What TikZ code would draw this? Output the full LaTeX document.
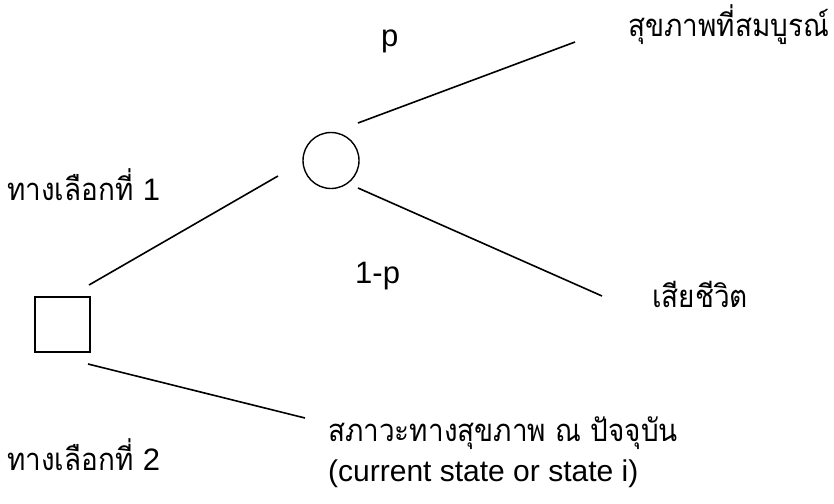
\documentclass[tikz,border=0pt]{standalone}
\usepackage{fontspec}
\setmainfont{Liberation Sans}
\newfontfamily\thaifont[Script=Thai, FakeStretch=0.9]{Loma}
\usepackage{tikz}

\begin{document}
\begin{tikzpicture}[x=1pt, y=-1pt,
        branch/.style={line width=1.6pt},
        lbl/.style={anchor=base west, inner sep=0pt, font=\fontsize{31}{34}\selectfont},
        th/.style={anchor=base west, inner sep=0pt, font=\fontsize{31}{34}\selectfont\thaifont}]
    \useasboundingbox (0,0) rectangle (834,503);
    % decision and chance nodes
    \node[draw, line width=1.4pt, minimum size=55pt, inner sep=0pt] (sq) at (62.5,324.5) {};
    \node[draw, circle, line width=1.4pt, minimum size=56pt, inner sep=0pt] (chance) at (331,160.5) {};
    % branch ends
    \coordinate (sqtop) at (89,285);
    \coordinate (chin) at (278,176);
    \coordinate (chup) at (358,123);
    \coordinate (good) at (575,42);
    \coordinate (chdn) at (358,188);
    \coordinate (dead) at (602,296);
    \coordinate (sqbot) at (88,364);
    \coordinate (now) at (305,418);
    \draw[branch] (sqtop) -- (chin);
    \draw[branch] (chup) -- (good);
    \draw[branch] (chdn) -- (dead);
    \draw[branch] (sqbot) -- (now);
    % labels
    \node[lbl] (p) at (381,46) {p};
    \node[lbl] (q) at (355,283) {1-p};
    \node[th] (opt1) at (7,200) {ทางเลือกที่ {\rmfamily 1}};
    \node[th] (opt2) at (7,470) {ทางเลือกที่ {\rmfamily 2}};
    \node[th] (perfect) at (628,37) {สุขภาพที่สมบูรณ์};
    \node[th] (death) at (652,307) {เสียชีวิต};
    \node[th] (state) at (328,441) {สภาวะทางสุขภาพ ณ ปัจจุบัน};
    \node[lbl, font=\fontsize{30}{34}\selectfont] (statei) at (328,481) {(current state or state i)};
\end{tikzpicture}
\end{document}
